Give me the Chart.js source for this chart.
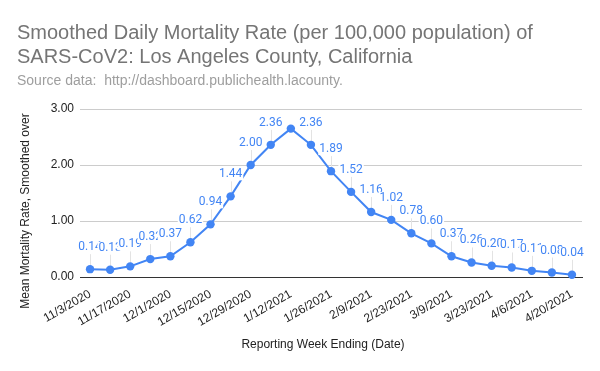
<!DOCTYPE html>
<html>
<head>
<meta charset="utf-8">
<script src="https://cdn.jsdelivr.net/npm/chart.js@4/dist/chart.umd.min.js"></script>
<style>
  html, body { margin: 0; padding: 0; background: #fff; }
  #wrap { width: 600px; height: 371px; position: relative; }
</style>
</head>
<body>
<div id="wrap"><canvas id="c" width="600" height="371"></canvas></div>
<script>
// ---- Data ----
const categories = ["11/3/2020","11/10/2020","11/17/2020","11/24/2020","12/1/2020","12/8/2020","12/15/2020","12/22/2020","12/29/2020","1/5/2021","1/12/2021","1/19/2021","1/26/2021","2/2/2021","2/9/2021","2/16/2021","2/23/2021","3/2/2021","3/9/2021","3/16/2021","3/23/2021","3/30/2021","4/6/2021","4/13/2021","4/20/2021"];
const mortalityRate = [0.14,0.13,0.19,0.32,0.37,0.62,0.94,1.44,2.00,2.36,2.65,2.36,1.89,1.52,1.16,1.02,0.78,0.60,0.37,0.26,0.20,0.17,0.11,0.08,0.04];
const hiddenLabelIdx = [10];
const yTicks = [0, 1, 2, 3];
const titleLines = ["Smoothed Daily Mortality Rate (per 100,000 population) of", "SARS-CoV2: Los Angeles County, California"];
const subtitleText = "Source data:  http://dashboard.publichealth.lacounty.";
const yTitle = "Mean Mortality Rate, Smoothed over";
const xTitle = "Reporting Week Ending (Date)";

const BLUE = '#4285F4';
const SANS = '"Liberation Sans", Arial, sans-serif';

const textPlugin = {
  id: 'texts',
  beforeDraw(chart) {
    const ctx = chart.ctx;
    ctx.save();
    ctx.fillStyle = '#fff';
    ctx.fillRect(0, 0, chart.width, chart.height);
    ctx.textAlign = 'left';
    ctx.textBaseline = 'alphabetic';
    ctx.fillStyle = '#757575';
    ctx.font = '20px ' + SANS;
    ctx.fillText(titleLines[0], 17, 39);
    ctx.fillText(titleLines[1], 17, 63);
    ctx.fillStyle = '#9e9e9e';
    ctx.font = '14px ' + SANS;
    ctx.fillText(subtitleText, 17, 85);
    // axis titles
    ctx.fillStyle = '#222';
    ctx.font = '12px ' + SANS;
    ctx.textAlign = 'center';
    ctx.textBaseline = 'middle';
    ctx.fillText(xTitle, 323, 345);
    ctx.translate(26, 211);
    ctx.rotate(-Math.PI / 2);
    ctx.fillText(yTitle, 0, 0);
    ctx.restore();
  },
  beforeDatasetsDraw(chart) {
    const ctx = chart.ctx;
    const meta = chart.getDatasetMeta(0);
    ctx.save();
    ctx.strokeStyle = '#e3e3e3';
    ctx.lineWidth = 1;
    meta.data.forEach((pt, i) => {
      if (hiddenLabelIdx.includes(i)) return;
      const x = Math.round(pt.x) + 0.5;
      ctx.beginPath();
      ctx.moveTo(x, pt.y - 15);
      ctx.lineTo(x, pt.y);
      ctx.stroke();
    });
    ctx.restore();
  },
  afterDatasetsDraw(chart) {
    const ctx = chart.ctx;
    const meta = chart.getDatasetMeta(0);
    ctx.save();
    ctx.font = '12px Roboto, sans-serif';
    ctx.textAlign = 'center';
    ctx.textBaseline = 'middle';
    meta.data.forEach((pt, i) => {
      if (hiddenLabelIdx.includes(i)) return;
      const txt = mortalityRate[i].toFixed(2);
      const w = ctx.measureText(txt).width;
      const cy = pt.y - 22;
      ctx.fillStyle = 'rgba(255,255,255,1)';
      ctx.fillRect(pt.x - w / 2 - 1, cy - 6, w + 2, 12);
      ctx.fillStyle = BLUE;
      ctx.fillText(txt, pt.x, cy);
    });
    ctx.restore();
  }
};

new Chart(document.getElementById('c'), {
  type: 'line',
  data: {
    labels: categories,
    datasets: [{
      data: mortalityRate,
      borderColor: BLUE,
      backgroundColor: BLUE,
      borderWidth: 2,
      pointRadius: 4.2,
      pointBorderWidth: 0,
      pointBackgroundColor: BLUE,
      tension: 0,
      clip: false
    }]
  },
  options: {
    responsive: false,
    animation: false,
    devicePixelRatio: 1,
    layout: { padding: { top: 109, right: 18, bottom: 0, left: 0 } },
    plugins: {
      legend: { display: false },
      title: { display: false },
      tooltip: { enabled: false }
    },
    scales: {
      x: {
        type: 'category',
        offset: true,
        grid: { display: false },
        border: { display: true, color: '#333', width: 1 },
        ticks: {
          autoSkip: false,
          maxRotation: 30,
          minRotation: 30,
          color: '#222',
          font: { family: SANS, size: 12 },
          padding: 2,
          callback: function (v, i) { return i % 2 === 0 ? categories[i] : ''; }
        },
        afterFit(scale) { scale.height = 94; }
      },
      y: {
        min: 0,
        max: 3,
        afterBuildTicks(scale) { scale.ticks = yTicks.map(v => ({ value: v })); },
        grid: { color: '#cccccc', drawTicks: false },
        border: { display: false },
        ticks: {
          color: '#222',
          font: { family: SANS, size: 12 },
          padding: 6,
          callback: v => Number(v).toFixed(2)
        },
        afterFit(scale) { scale.width = 80; }
      }
    }
  },
  plugins: [textPlugin]
});
</script>
</body>
</html>
